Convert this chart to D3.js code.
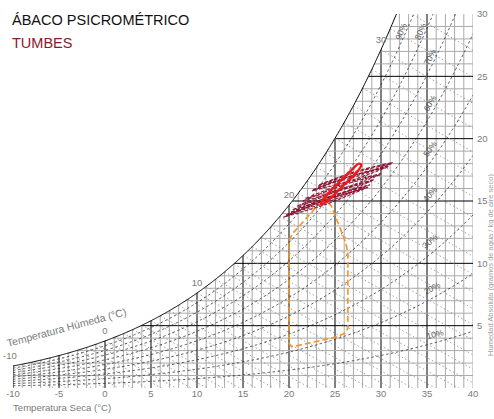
<!DOCTYPE html>
<html><head><meta charset="utf-8">
<script src="https://cdn.jsdelivr.net/npm/d3@7"></script>
<style>
body{margin:0;background:#fff}
svg{display:block;font-family:"Liberation Sans",Arial,sans-serif}
</style>
</head><body>
<svg id="chart" width="494" height="419"></svg>
<script>
// Axis ticks
const dryBulbTicks = [-10, -5, 0, 5, 10, 15, 20, 25, 30, 35, 40];
const humidityTicks = [5, 10, 15, 20, 25, 30];
const rhLevels = [10, 20, 30, 40, 50, 60, 70, 80, 90];
const wetBulbLabels = [-10, 0, 10, 20, 30];

// Monthly daily ranges (dry bulb °C, humidity ratio g/kg)
const months = ["Ene","Feb","Mar","Abr","May","Jun","Jul","Ago","Sep","Oct","Nov","Dic"];
const tMin   = [22.5, 23.2, 23.3, 22.6, 21.5, 20.4, 19.7, 19.4, 19.7, 20.2, 20.9, 21.8];
const tMax   = [30.8, 31.2, 31.3, 30.7, 29.9, 29.0, 28.4, 28.2, 28.6, 28.8, 29.2, 30.0];
const wAtMin = [15.8, 16.2, 16.3, 15.9, 15.0, 14.3, 13.9, 13.7, 13.8, 14.1, 14.6, 15.2];
const wAtMax = [17.8, 18.0, 18.1, 17.7, 17.1, 16.6, 16.2, 16.0, 16.1, 16.3, 16.7, 17.2];

// Monthly means
const tMean = [26.8, 27.5, 27.85, 27.6, 26.6, 25.3, 24.2, 23.45, 23.8, 24.3, 25.0, 25.9];
const wMean = [16.88, 17.43, 17.88, 18.0, 17.33, 16.4, 15.55, 14.75, 14.82, 15.08, 15.58, 16.23];

// Comfort zone outline
const comfortT = [20.0, 20.3, 25.2, 26.1, 26.4, 26.4, 26.1, 24.6, 23.7, 22.6, 20.4, 20.0];
const comfortW = [3.6, 3.3, 4.1, 4.4, 4.8, 10.9, 11.8, 14.6, 15.3, 14.2, 12.4, 11.8];

const P = 101.325; // kPa, sea level

const svg = d3.select("#chart");
const x = d3.scaleLinear([-10, 40], [13, 473]);
const y = d3.scaleLinear([0, 30], [388, 14]);

function psat(t) { return 0.61094 * Math.exp(17.625 * t / (t + 243.04)); }
function wFromPv(pv) { return 622 * pv / (P - pv); }
function wsat(t) { return wFromPv(psat(t)); }
function wRH(rh, t) { return wFromPv(rh / 100 * psat(t)); }
function solveT(f, w, lo, hi) {
  for (let i = 0; i < 60; i++) { const m = (lo + hi) / 2; if (f(m) < w) lo = m; else hi = m; }
  return (lo + hi) / 2;
}
function tSatOfW(w) { return solveT(wsat, w, -30, 60); }
function wWetBulb(t, twb) {
  const ws = wsat(twb) / 1000;
  return 1000 * ((2501 - 2.326 * twb) * ws - 1.006 * (t - twb)) / (2501 + 1.86 * t - 4.186 * twb);
}

const tTop = tSatOfW(30);
const satPts = d3.range(-10, tTop + 0.001, 0.1).map(t => [t, Math.min(wsat(t), 30)]);
satPts.push([tTop, 30]);
const line = d3.line().x(d => x(d[0])).y(d => y(d[1]));

// clip region: below the saturation curve, inside the chart box
const clipPts = [[-10, 0], ...satPts, [40, 30], [40, 0]];
svg.append("defs").append("clipPath").attr("id", "area")
  .append("path").attr("d", line(clipPts) + "Z");

const grid = svg.append("g").attr("clip-path", "url(#area)");

// vertical dry-bulb lines
d3.range(-10, 41).forEach(t => {
  const major = t % 5 === 0 && t < 40;
  grid.append("line")
    .attr("x1", x(t)).attr("x2", x(t))
    .attr("y1", y(0)).attr("y2", y(30))
    .attr("stroke", major ? "#000" : "#aaa").attr("stroke-width", 1);
});
// horizontal humidity lines
d3.range(1, 30).forEach(w => {
  const major = w % 5 === 0;
  grid.append("line")
    .attr("x1", x(tSatOfW(w))).attr("x2", x(40))
    .attr("y1", y(w)).attr("y2", y(w))
    .attr("stroke", major ? "#000" : "#aaa").attr("stroke-width", 1);
});
// wet-bulb lines
d3.range(-10, 33).forEach(twb => {
  const pts = d3.range(twb, 40.01, 0.5).map(t => [t, wWetBulb(t, twb)]).filter(d => d[1] > -0.5);
  grid.append("path").attr("d", line(pts)).attr("fill", "none")
    .attr("stroke", "#8a8a8a").attr("stroke-width", 0.8).attr("stroke-dasharray", "1.5,2.5");
});
// relative humidity curves
rhLevels.forEach(rh => {
  const pts = d3.range(-10, 40.01, 0.25).map(t => [t, wRH(rh, t)]);
  grid.append("path").attr("d", line(pts)).attr("fill", "none")
    .attr("stroke", "#2a2a2a").attr("stroke-width", 0.75).attr("stroke-dasharray", "2.5,2.5");
});

// saturation curve
svg.append("path").attr("d", line(satPts)).attr("fill", "none")
  .attr("stroke", "#000").attr("stroke-width", 1);

const labelColor = "#7a7a7a";

// RH labels, set just above each curve near 35 °C (or near the top edge)
rhLevels.forEach(rh => {
  let t = 35, w = wRH(rh, 35), dx, dy;
  if (w > 27) {
    w = 28.6; t = solveT(tt => wRH(rh, tt), w, 20, 45); dx = -5; dy = 0;
  } else {
    dx = rh <= 20 ? 8 - (rh - 10) * 0.3 : 3;
    dy = -Math.min(18, 8 + rh / 4);
  }
  const w2 = wRH(rh, t + 0.3), w1 = wRH(rh, t - 0.3);
  const ang = Math.atan2(y(w2) - y(w1), x(t + 0.3) - x(t - 0.3)) * 180 / Math.PI;
  const px = x(t) + dx, py = y(w) + dy;
  svg.append("text").attr("transform", `translate(${px},${py}) rotate(${ang})`)
    .attr("text-anchor", "middle").attr("dy", "0.35em")
    .attr("font-size", 8.5).attr("fill", "#555").text(rh + "%");
});

// wet-bulb labels on the saturation curve
wetBulbLabels.forEach(t => {
  svg.append("text").attr("x", t === -10 ? 3 : x(t)).attr("y", y(wsat(t)) - 7)
    .attr("text-anchor", t === -10 ? "start" : "middle")
    .attr("font-size", 9.5).attr("fill", labelColor).text(t);
});

svg.append("text").attr("transform", `translate(8,347) rotate(-15)`)
  .attr("font-size", 10.5).attr("fill", labelColor).text("Temperatura Húmeda (°C)");

// bottom axis
dryBulbTicks.forEach(t => {
  svg.append("text").attr("x", x(t)).attr("y", 397).attr("text-anchor", "middle")
    .attr("font-size", 9.5).attr("fill", labelColor).text(t);
});
svg.append("text").attr("x", 13).attr("y", 411).attr("font-size", 9.6)
  .attr("fill", labelColor).text("Temperatura Seca (°C)");

// right axis
humidityTicks.forEach(w => {
  svg.append("text").attr("x", 477).attr("y", y(w)).attr("dy", "0.35em")
    .attr("font-size", 9.5).attr("fill", labelColor).text(w);
});
svg.append("text").attr("transform", "translate(493,265) rotate(-90)")
  .attr("text-anchor", "middle").attr("font-size", 7.5).attr("fill", "#a0a0a0")
  .text("Humedad Absoluta (gramos de agua / kg de aire seco)");

// comfort zone
const comfort = comfortT.map((t, i) => [t, comfortW[i]]);
svg.append("path").attr("d", line(comfort) + "Z").attr("fill", "none")
  .attr("stroke", "#f7931e").attr("stroke-width", 1.6).attr("stroke-dasharray", "6,3");

// monthly daily ranges
const smooth = d3.line().x(d => x(d[0])).y(d => y(d[1])).curve(d3.curveCatmullRom);
months.forEach((m, i) => {
  const a = [tMin[i], wAtMin[i]], b = [tMax[i], wAtMax[i]];
  const midT = (a[0] + b[0]) / 2, midW = (a[1] + b[1]) / 2;
  svg.append("path").attr("d", smooth([a, [midT, midW + 0.18], b])).attr("fill", "none")
    .attr("stroke", "#8b1030").attr("stroke-width", 1.1).attr("stroke-dasharray", "4,1.5");
  svg.append("path").attr("d", smooth([b, [midT, midW - 0.18], a])).attr("fill", "none")
    .attr("stroke", "#8b1030").attr("stroke-width", 0.9).attr("stroke-dasharray", "3,2");
});

// monthly mean loop
const means = tMean.map((t, i) => [t, wMean[i]]);
svg.append("path")
  .attr("d", d3.line().x(d => x(d[0])).y(d => y(d[1])).curve(d3.curveCatmullRomClosed)(means))
  .attr("fill", "none").attr("stroke", "#f01818").attr("stroke-width", 2.4);

// title
svg.append("text").attr("x", 12).attr("y", 25).attr("font-size", 14.5).attr("fill", "#111")
  .text("ÁBACO PSICROMÉTRICO");
svg.append("text").attr("x", 12).attr("y", 48).attr("font-size", 14.5).attr("fill", "#8b1a2b")
  .text("TUMBES");
</script>
</body></html>
